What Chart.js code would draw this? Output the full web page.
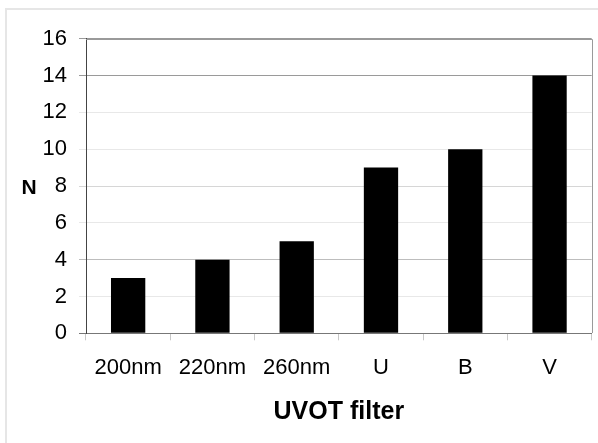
<!DOCTYPE html>
<html><head><meta charset="utf-8">
<script src="https://cdn.jsdelivr.net/npm/chart.js@4/dist/chart.umd.min.js"></script>
<style>html,body{margin:0;padding:0;background:#fff}#wrap{width:598px;height:443px;position:relative}</style>
</head><body><div id="wrap"><canvas id="c" width="598" height="443"></canvas></div>
<script>
const categories = ['200nm', '220nm', '260nm', 'U', 'B', 'V'];
const counts = [3, 4, 5, 9, 10, 14];
const yMin = 0, yMax = 16, yStep = 2;
const xTitle = 'UVOT filter';
const yTitle = 'N';

const FONT = "'Liberation Sans', Arial, Helvetica, sans-serif";

const framePlugin = {
  id: 'frame',
  beforeDraw(chart) {
    const ctx = chart.ctx;
    ctx.save();
    ctx.fillStyle = '#fff';
    ctx.fillRect(0, 0, chart.width, chart.height);
    ctx.strokeStyle = '#e6e6e6';
    ctx.lineWidth = 2;
    ctx.strokeRect(6, 9, 800, 800);
    ctx.restore();
  },
  afterDraw(chart) {
    const {ctx, chartArea: a} = chart;
    ctx.save();
    ctx.strokeStyle = '#9a9a9a';
    ctx.lineWidth = 1;
    ctx.beginPath();
    ctx.moveTo(a.left, Math.round(a.top) + 0.5);
    ctx.lineTo(Math.round(a.right) + 0.5, Math.round(a.top) + 0.5);
    ctx.lineTo(Math.round(a.right) + 0.5, Math.round(a.bottom));
    ctx.stroke();
    ctx.fillStyle = '#000';
    ctx.font = "bold 21px " + FONT;
    ctx.textAlign = 'center';
    ctx.textBaseline = 'middle';
    ctx.fillText(yTitle, 29, 188);
    ctx.restore();
  }
};

function gridColor(ctx) {
  const v = ctx.tick ? ctx.tick.value : null;
  if (v === 14 || v === 16) return '#9a9a9a';
  if (v === 4) return '#bdbdbd';
  if (v === 8) return '#d6d6d6';
  if (v === 0) return '#777';
  return '#e8e8e8';
}

new Chart(document.getElementById('c'), {
  type: 'bar',
  data: {
    labels: categories,
    datasets: [{
      data: counts,
      backgroundColor: '#000',
      borderColor: '#000',
      borderWidth: 0,
      barPercentage: 1,
      categoryPercentage: 0.407
    }]
  },
  options: {
    responsive: false,
    animation: false,
    devicePixelRatio: 1,
    layout: { padding: { top: 38.7, right: 6.3, bottom: 0, left: 0 } },
    plugins: { legend: { display: false }, tooltip: { enabled: false } },
    scales: {
      x: {
        offset: true,
        grid: { offset: true, drawOnChartArea: false, drawTicks: true, tickLength: 7, color: '#c8c8c8' },
        border: { display: true, color: '#777', width: 1 },
        ticks: { color: '#000', font: { family: FONT, size: 22 }, padding: 14, maxRotation: 0, autoSkip: false },
        title: { display: true, text: xTitle, color: '#000', font: { family: FONT, size: 25, weight: 'bold' }, padding: { top: 0, bottom: 16 } },
        afterFit(scale) { scale.height = 443 - 333.3; scale.paddingLeft = 0; scale.paddingRight = 0; }
      },
      y: {
        min: yMin, max: yMax,
        grid: { color: gridColor, tickLength: 7, drawTicks: true },
        border: { display: true, color: '#444', width: 1 },
        ticks: { stepSize: yStep, color: '#000', font: { family: FONT, size: 22 }, padding: 12 },
        afterFit(scale) { scale.width = 86; scale.paddingTop = 0; scale.paddingBottom = 0; }
      }
    }
  },
  plugins: [framePlugin]
});
</script>
</body></html>
